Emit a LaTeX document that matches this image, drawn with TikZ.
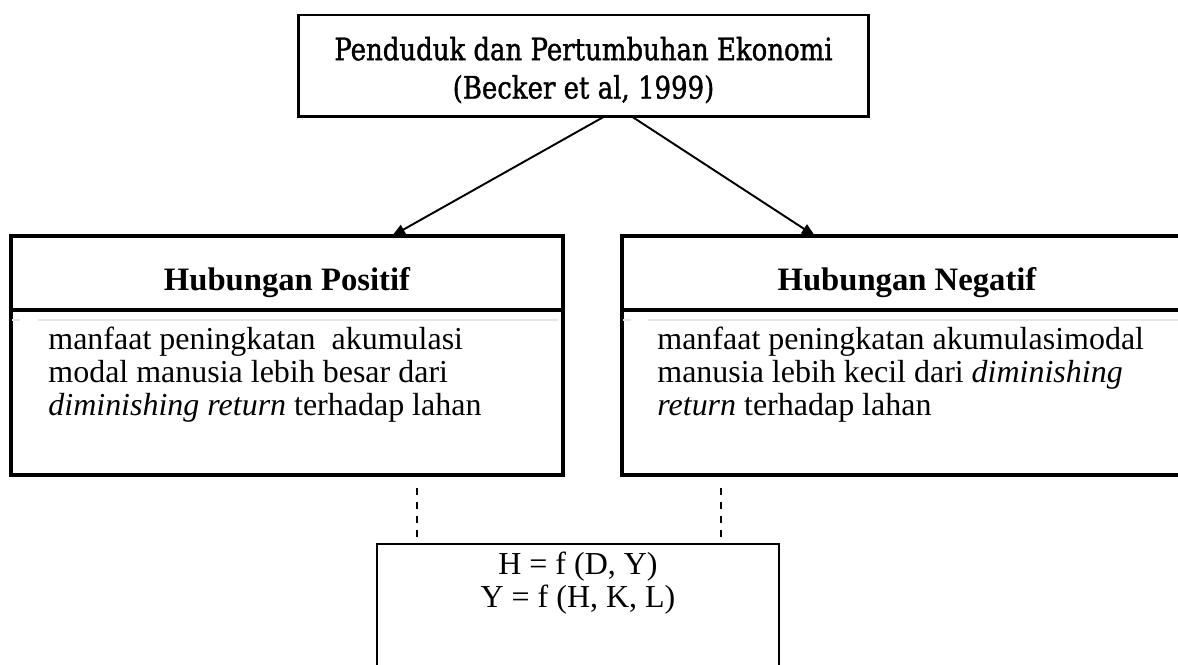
\documentclass[tikz,border=0pt]{standalone}
\usepackage{fontspec}
\setmainfont{Liberation Serif}
\newfontfamily\titlefont{DejaVu Serif}[FakeStretch=0.84,FakeBold=1.2]
\usetikzlibrary{arrows.meta,positioning}
\tikzset{
  >={Triangle[length=7.5pt,width=6pt]},
  titlebox/.style={draw,line width=1.7pt,outer sep=0pt,minimum width=11.42cm,minimum height=2.04cm,
    align=center,font=\titlefont\fontsize{17.6}{21.8}\selectfont},
  headbox/.style={draw,line width=2.3pt,outer sep=0pt,minimum width=#1,minimum height=1.48cm,
    font=\fontsize{18.6}{21}\selectfont\bfseries,text height=20pt,text depth=0pt},
  bodybox/.style={draw,line width=2.3pt,outer sep=0pt,minimum width=#1,minimum height=3.3cm},
  formbox/.style={draw,line width=0.85pt,outer sep=0pt,minimum width=8.04cm,minimum height=3cm},
  bodytxt/.style={align=left,inner sep=0pt,font=\fontsize{18.2}{18.8}\selectfont},
  link/.style={->,line width=1.1pt},
  dashline/.style={line width=0.9pt,dash pattern=on 4pt off 4pt},
  shade line/.style={gray!20,line width=1.7pt},
}
\begin{document}
\begin{tikzpicture}[x=0.02cm,y=-0.02cm]
  \useasboundingbox (0,0) rectangle (1178,665);
  % top
  \node[titlebox] (title) at (583.5,66) {\rule{0pt}{18pt}Penduduk dan Pertumbuhan Ekonomi\\(Becker et al, 1999)};
  % two relations
  \node[headbox=11.04cm] (poshead) at (287,273) {Hubungan Positif};
  \node[bodybox=11.04cm,below=0pt of poshead] (posbody) {};
  \node[headbox=11.4cm] (neghead) at (907,273) {Hubungan Negatif};
  \node[bodybox=11.4cm,below=0pt of neghead] (negbody) {};
  \draw[shade line] (12,320) -- (20,320) (38,320) -- (558,320);
  \draw[shade line] (623,320) -- (631,320) (648,320) -- (1178,320);
  \node[bodytxt,anchor=north west] (postxt) at ([shift={(37,17)}]posbody.north west)
    {manfaat peningkatan~ akumulasi\\modal manusia lebih besar dari\\\textit{diminishing return} terhadap lahan};
  \node[bodytxt,anchor=north west] (negtxt) at ([shift={(35,17)}]negbody.north west)
    {manfaat peningkatan akumulasimodal\\manusia lebih kecil dari \textit{diminishing}\\\textit{return} terhadap lahan};
  % model
  \node[formbox] (form) at (578,619) {};
  \node[bodytxt,align=center,anchor=north] (formtxt) at ([shift={(0,8)}]form.north)
    {H = f (D, Y)\\Y = f (H, K, L)};
  \draw[link] ([shift={(20,0)}]title.south) -- ([shift={(105,0)}]poshead.north);
  \draw[link] ([shift={(49,0)}]title.south) -- ([shift={(-92,0)}]neghead.north);
  \draw[dashline] ([shift={(130,13)}]posbody.south) -- ([shift={(-161,-4)}]form.north);
  \draw[dashline] ([shift={(-186,13)}]negbody.south) -- ([shift={(143,-4)}]form.north);
\end{tikzpicture}
\end{document}
